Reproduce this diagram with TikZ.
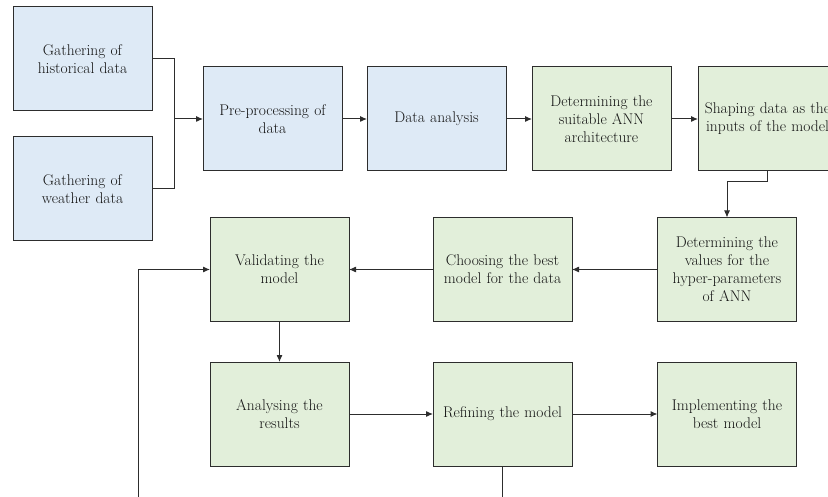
\documentclass[tikz,border=0pt]{standalone}
\usetikzlibrary{arrows.meta}
\definecolor{bluefill}{RGB}{222,234,246}
\definecolor{greenfill}{RGB}{226,239,218}
\definecolor{edge}{RGB}{45,45,45}
\definecolor{txt}{RGB}{20,20,20}
\begin{document}
\begin{tikzpicture}[x=1pt,y=-1pt,
  box/.style={draw=edge,line width=1pt,minimum width=139pt,minimum height=104pt,
    inner sep=0pt,outer sep=0pt,text width=136pt,align=center,text=txt,
    font=\fontsize{15.5}{18}\selectfont},
  bbox/.style={box,fill=bluefill},
  gbox/.style={box,fill=greenfill},
  conn/.style={draw=edge,line width=1pt},
  arr/.style={conn,-{Latex[length=7pt,width=6pt]}}]
\useasboundingbox (0,0) rectangle (828,497);
\clip (0,0) rectangle (828,497);
\node[bbox] (b1) at (82.5,59) {Gathering of\\historical data};
\node[bbox] (b2) at (82.5,189) {Gathering of\\weather data};
\node[bbox] (b3) at (272.5,119) {Pre-processing of\\data};
\node[bbox] (b4) at (436.5,119) {Data analysis};
\node[gbox] (b5) at (601.5,119) {Determining the\\suitable ANN\\architecture};
\node[gbox] (b6) at (767.5,119) {Shaping data as the\\inputs of the model};
\node[gbox] (b7) at (727,269.5) {Determining the\\values for the\\hyper-parameters\\of ANN};
\node[gbox] (b8) at (502.5,269.5) {Choosing the best\\model for the data};
\node[gbox] (b9) at (279.5,269.5) {Validating the\\model};
\node[gbox] (b10) at (279.5,414) {Analysing the\\results};
\node[gbox] (b11) at (502.5,414) {Refining the model};
\node[gbox] (b12) at (727,414) {Implementing the\\best model};
\coordinate (j) at (174,119);
\coordinate (fb) at (138,540);
\draw[conn] (b1.east) -| (j);
\draw[conn] (b2.east) -| (j);
\draw[arr] (j) -- (b3.west);
\draw[arr] (b3) -- (b4);
\draw[arr] (b4) -- (b5);
\draw[arr] (b5) -- (b6);
\draw[arr] (b6.south) -- ++(0,11) -| (b7.north);
\draw[arr] (b7) -- (b8);
\draw[arr] (b8) -- (b9);
\draw[arr] (b9) -- (b10);
\draw[arr] (b10) -- (b11);
\draw[arr] (b11) -- (b12);
\draw[arr] (b11.south) |- (fb) |- (b9.west);
\end{tikzpicture}
\end{document}
